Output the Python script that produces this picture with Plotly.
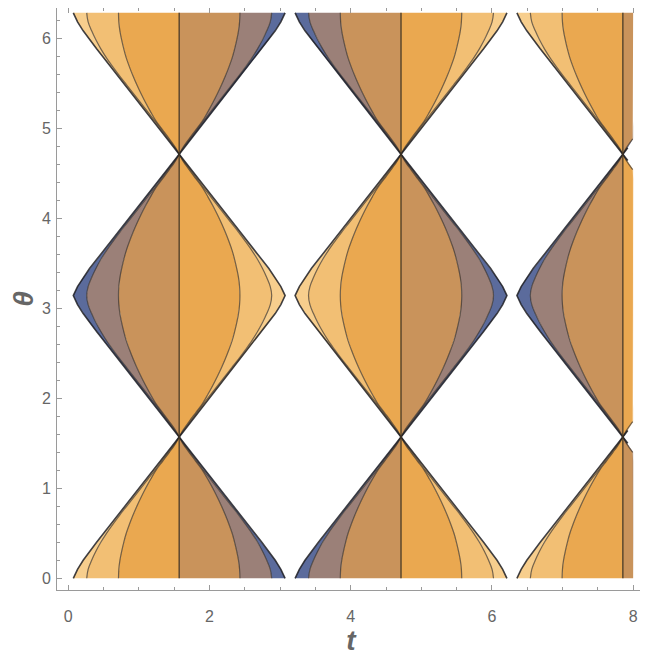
import numpy as np
import plotly.graph_objects as go

# data window of the region plot
T_MAX = 8.0
TH_MAX = 6.2832

# lens centres (t, theta)
t_centers = [1.5708, 4.7124, 7.854]
theta_centers = [0.0, 3.1416, 6.2832]

# which half of each lens carries the blue layer (-1 = left, +1 = right)
# rows: theta centre, columns: t centre
blue_side = [
    [1, -1, 1],
    [-1, 1, -1],
    [1, -1, 1],
]

# half-width profiles of the nested regions,
# as a function of |theta - theta_centre|
d_prof = [0.0, 0.1, 0.2, 0.3, 0.4, 0.5, 0.6, 0.7, 0.8, 0.9,
          1.0, 1.1, 1.2, 1.3, 1.4, 1.5, 1.5708]
outer_hw = [1.50, 1.44, 1.36, 1.27, 1.17, 1.07, 0.97, 0.87, 0.77, 0.67,
            0.57, 0.47, 0.37, 0.27, 0.17, 0.07, 0.0]
mid_hw = [1.31, 1.29, 1.24, 1.18, 1.11, 1.03, 0.94, 0.845, 0.745, 0.645,
          0.545, 0.445, 0.345, 0.25, 0.155, 0.06, 0.0]
inner_hw = [0.86, 0.855, 0.84, 0.815, 0.785, 0.75, 0.705, 0.655, 0.60, 0.54,
            0.475, 0.405, 0.33, 0.235, 0.14, 0.05, 0.0]

# colours: (blue half, orange half) for each zone, inner to outer
zone_colors = [
    ("#C9935B", "#EAA850"),
    ("#9B8078", "#F2BF74"),
    ("#5B6B9C", "#F7CE8D"),
]


def mirror(prof):
    prof = np.asarray(prof, dtype=float)
    return np.concatenate([prof[::-1], prof[1:]])


d_full = np.concatenate([-np.asarray(d_prof)[::-1], np.asarray(d_prof)[1:]])
zero_full = np.zeros_like(d_full)
outer_full = mirror(outer_hw)
mid_full = mirror(mid_hw)
inner_full = mirror(inner_hw)

zones = [
    (zero_full, inner_full),
    (inner_full, mid_full),
    (mid_full, outer_full),
]

fills = {}
inner_x, inner_y = [], []
edge_x, edge_y = [], []
center_x, center_y = [], []


def add_curve(xs, ys, bx, by):
    for x, y in zip(xs, ys):
        if x > T_MAX + 1e-9:
            bx.append(None)
            by.append(None)
        else:
            bx.append(x)
            by.append(y)
    bx.append(None)
    by.append(None)


for j, thc in enumerate(theta_centers):
    for i, tc in enumerate(t_centers):
        th = thc + d_full
        keep = (th >= -1e-9) & (th <= TH_MAX + 1e-9)
        th_k = th[keep]
        for s in (-1, 1):
            blue = s == blue_side[j][i]
            for k, (a, b) in enumerate(zones):
                xa = np.clip(tc + s * a[keep], 0, T_MAX)
                xb = np.clip(tc + s * b[keep], 0, T_MAX)
                if np.max(np.abs(xb - xa)) < 1e-6:
                    continue
                color = zone_colors[k][0 if blue else 1]
                px, py = fills.setdefault(color, ([], []))
                px += list(np.concatenate([xa, xb[::-1]])) + [None]
                py += list(np.concatenate([th_k, th_k[::-1]])) + [None]
            add_curve(tc + s * inner_full[keep], th_k, inner_x, inner_y)
            add_curve(tc + s * mid_full[keep], th_k, inner_x, inner_y)
            add_curve(tc + s * outer_full[keep], th_k, edge_x, edge_y)
        if tc <= T_MAX:
            center_x += [tc, tc, None]
            center_y += [max(thc - 1.5708, 0), min(thc + 1.5708, TH_MAX), None]

fig = go.Figure()

for color, (px, py) in fills.items():
    fig.add_trace(go.Scatter(
        x=px, y=py, mode="lines", fill="toself", fillcolor=color,
        line=dict(width=0), hoverinfo="skip"
    ))

fig.add_trace(go.Scatter(
    x=inner_x, y=inner_y, mode="lines", line_shape="spline",
    line=dict(color="rgba(60,50,40,0.7)", width=1.2), hoverinfo="skip"
))
fig.add_trace(go.Scatter(
    x=edge_x, y=edge_y, mode="lines",
    line=dict(color="rgba(30,30,35,0.85)", width=1.6), hoverinfo="skip"
))
fig.add_trace(go.Scatter(
    x=center_x, y=center_y, mode="lines",
    line=dict(color="rgba(70,55,35,0.85)", width=1.5), hoverinfo="skip"
))

axis_font = dict(family="Liberation Sans", size=16, color="#666666")
title_font = dict(family="Liberation Sans", size=28, color="#666666",
                  weight="bold", style="italic")

fig.update_layout(
    width=648,
    height=659,
    margin=dict(l=49, r=11, t=0, b=77),
    plot_bgcolor="white",
    paper_bgcolor="white",
    showlegend=False,
    xaxis=dict(
        range=[-0.16, 8.168], showgrid=False, zeroline=False,
        showline=True, linecolor="#9a9a9a", linewidth=1, mirror="ticks",
        ticks="inside", ticklen=5, tickcolor="#9a9a9a", tick0=0, dtick=2,
        minor=dict(dtick=0.5, ticklen=3, ticks="inside", tickcolor="#9a9a9a"),
        tickfont=axis_font, automargin=False, ticklabelstandoff=12,
        title=dict(text="t", font=title_font, standoff=6),
    ),
    yaxis=dict(
        range=[-0.13, 6.337], showgrid=False, zeroline=False,
        showline=True, linecolor="#9a9a9a", linewidth=1, mirror="ticks",
        ticks="inside", ticklen=5, tickcolor="#9a9a9a", tick0=0, dtick=1,
        minor=dict(dtick=0.2, ticklen=3, ticks="inside", tickcolor="#9a9a9a"),
        tickfont=axis_font, automargin=False, ticklabelstandoff=2,
        title=dict(text="θ", font=title_font, standoff=30),
    ),
)

fig.write_html("out.html")
